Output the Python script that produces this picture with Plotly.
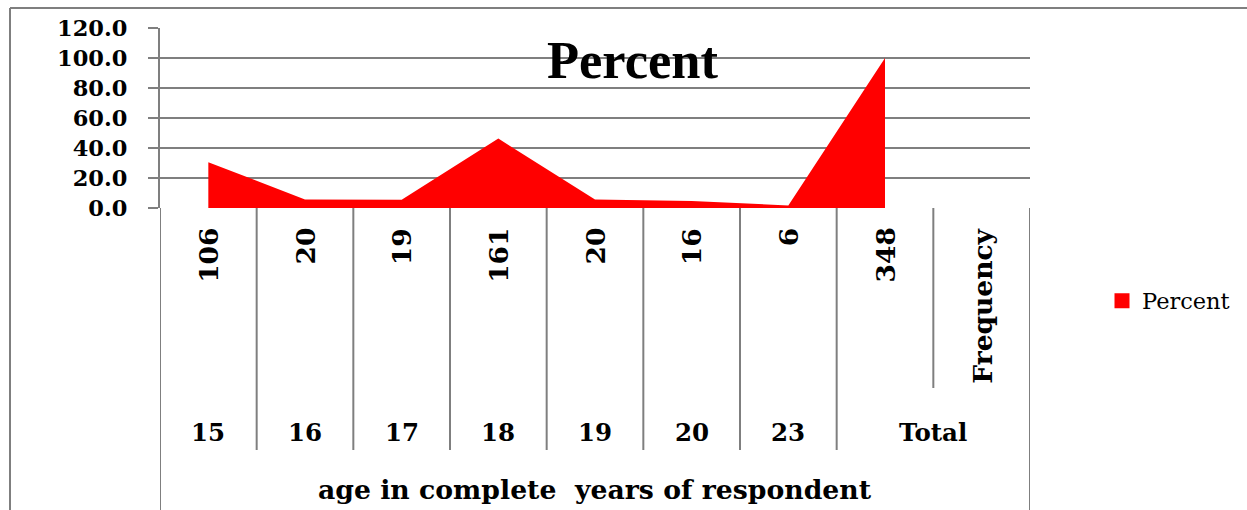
import plotly.graph_objects as go

# ---- data ----
age_groups = ["15", "16", "17", "18", "19", "20", "23", "Total"]
frequency_labels = ["106", "20", "19", "161", "20", "16", "6", "348", "Frequency"]
percent = [30.5, 5.7, 5.5, 46.3, 5.7, 4.6, 1.7, 100.0]
y_ticks = [0, 20, 40, 60, 80, 100, 120]
series_name = "Percent"
axis_title = "age in complete  years of respondent"

# ---- layout constants ----
W, H = 1247, 510
L, R, T, B = 160, 217, 28, 302
PW, PH = W - L - R, H - T - B
GRAY = "#7f7f7f"
NUM_FONT = "DejaVu Serif"


def px_x(px):
    return (px - L) / PW


def px_y(py):
    return (H - B - py) / PH


n_cat = len(frequency_labels)
xs = list(range(len(percent)))

fig = go.Figure()
fig.add_trace(go.Scatter(
    x=xs, y=percent, mode="none", fill="tozeroy",
    fillcolor="#ff0000", showlegend=False, hoverinfo="skip",
))
fig.add_trace(go.Scatter(
    x=[None], y=[None], mode="markers", name=series_name,
    marker=dict(symbol="square", size=15, color="#ff0000"),
))

shapes = []
line_style = dict(color=GRAY, width=2)
# outer chart border (top + left)
shapes.append(dict(type="line", xref="paper", yref="paper",
                   x0=px_x(10), x1=px_x(W + 5), y0=px_y(8), y1=px_y(8), line=line_style))
shapes.append(dict(type="line", xref="paper", yref="paper",
                   x0=px_x(10), x1=px_x(10), y0=px_y(8), y1=px_y(H + 5), line=line_style))
# category axis dividers
bottom_full = px_y(H + 5)
bottom_age = px_y(450)
bottom_freq = px_y(388)
shapes.append(dict(type="line", xref="x", yref="paper", x0=-0.5, x1=-0.5,
                   y0=0, y1=bottom_full, line=line_style))
shapes.append(dict(type="line", xref="x", yref="paper", x0=n_cat - 0.5, x1=n_cat - 0.5,
                   y0=0, y1=bottom_full, line=line_style))
for i in range(n_cat - 1):
    inside_total = i >= len(age_groups) - 1
    shapes.append(dict(type="line", xref="x", yref="paper", x0=i + 0.5, x1=i + 0.5,
                       y0=0, y1=bottom_freq if inside_total else bottom_age,
                       line=line_style))

annotations = []
for i, lab in enumerate(frequency_labels):
    annotations.append(dict(
        x=i, y=px_y(226), xref="x", yref="paper", text=f"<b>{lab}</b>",
        textangle=-90, xanchor="center", yanchor="top", showarrow=False,
        font=dict(family=NUM_FONT, size=26.5, color="black"),
    ))
for i, lab in enumerate(age_groups):
    xpos = i if lab != "Total" else (i + n_cat - 1) / 2
    annotations.append(dict(
        x=xpos, y=px_y(432), xref="x", yref="paper", text=f"<b>{lab}</b>",
        xanchor="center", yanchor="middle", showarrow=False,
        font=dict(family=NUM_FONT, size=24.5, color="black"),
    ))
annotations.append(dict(
    x=(n_cat - 1) / 2, y=px_y(490), xref="x", yref="paper", text=f"<b>{axis_title}</b>",
    xanchor="center", yanchor="middle", showarrow=False,
    font=dict(family=NUM_FONT, size=26.7, color="black"),
))
annotations.append(dict(
    x=px_x(633), y=px_y(60), xref="paper", yref="paper", text=f"<b>{series_name}</b>",
    xanchor="center", yanchor="middle", showarrow=False,
    font=dict(family="Liberation Serif", size=52.5, color="black"),
))

fig.update_layout(
    width=W, height=H,
    margin=dict(l=L, r=R, t=T, b=B, autoexpand=False),
    paper_bgcolor="white", plot_bgcolor="white",
    shapes=shapes, annotations=annotations,
    showlegend=True,
    legend=dict(x=px_x(1102), y=px_y(301), xanchor="left", yanchor="middle",
                font=dict(family=NUM_FONT, size=22.5, color="black"),
                bgcolor="rgba(0,0,0,0)", itemwidth=30),
    xaxis=dict(range=[-0.5, n_cat - 0.5], showticklabels=False, showgrid=False,
               zeroline=False, showline=False, ticks=""),
    yaxis=dict(range=[0, 120], tickvals=y_ticks, tickformat=".1f",
               showgrid=True, gridcolor=GRAY, gridwidth=2,
               zeroline=False, showline=True, linecolor=GRAY, linewidth=2,
               ticks="outside", ticklen=10, tickcolor=GRAY, tickwidth=2,
               ticklabelstandoff=16,
               tickfont=dict(family=NUM_FONT, size=22.5, color="black", weight="bold")),
)

fig.write_html("out.html")
